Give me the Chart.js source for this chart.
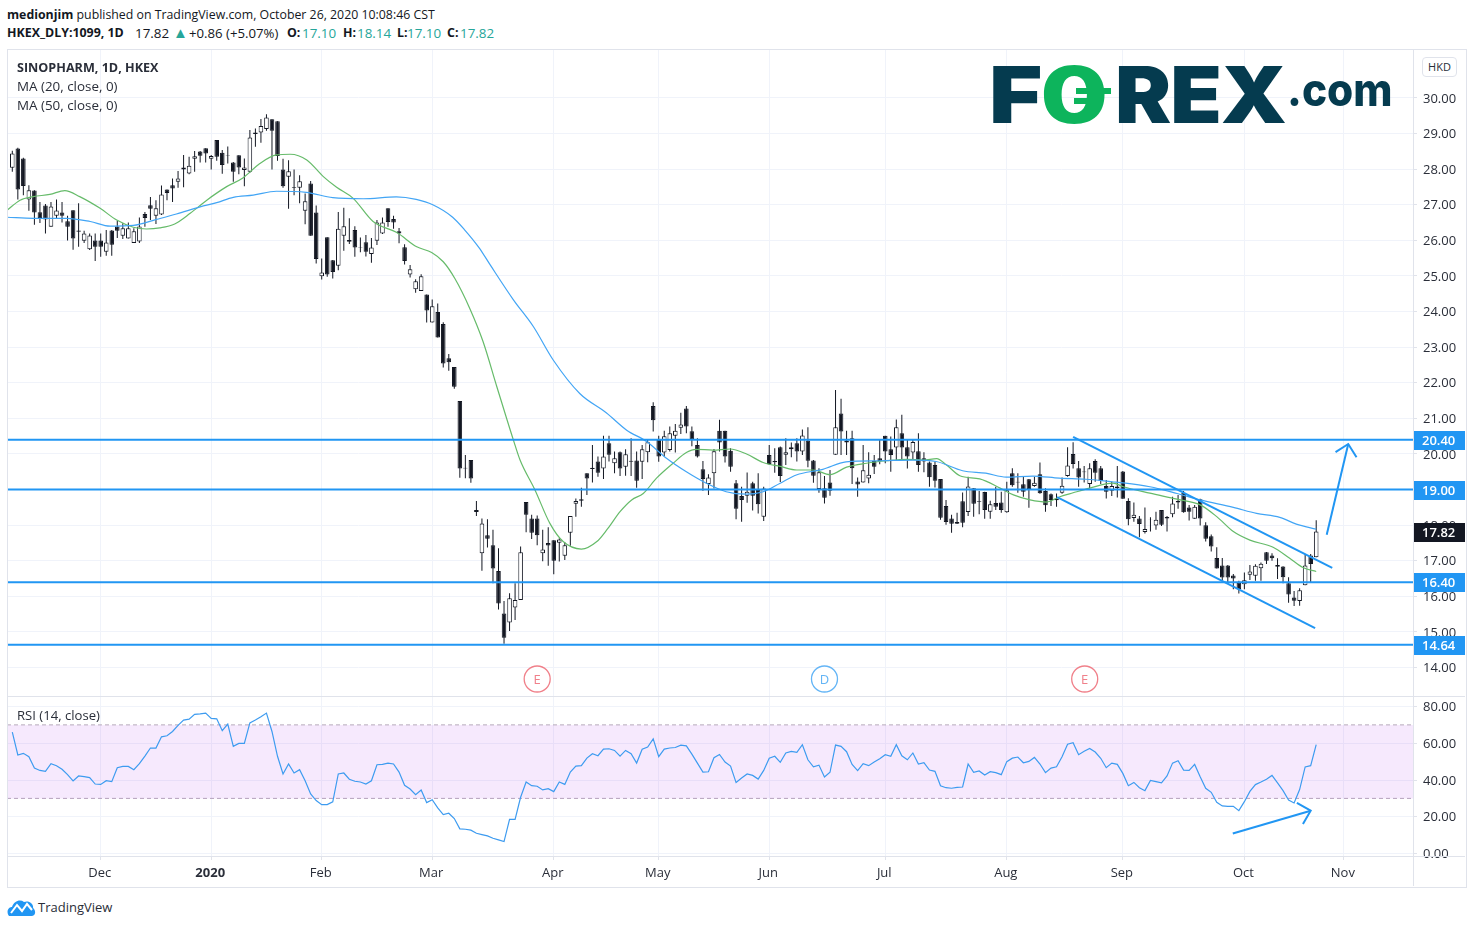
<!DOCTYPE html>
<html>
<head>
<meta charset="utf-8">
<title>SINOPHARM 1D</title>
<script src="https://cdn.jsdelivr.net/npm/chart.js@4/dist/chart.umd.min.js"></script>
<style>
body { margin: 0; background: #fff; font-family: "Open Sans", sans-serif; color: #131722; }
.abs { position: absolute; white-space: nowrap; }
canvas { position: absolute; }
b { font-weight: 700; }
.hd { position: absolute; white-space: nowrap; top: 24px; font-size: 12.4px; line-height: 18px; }
.val { position: absolute; white-space: nowrap; top: 24px; font-size: 13.4px; line-height: 18px; color: #26a69a; }
.logo { position: absolute; font-family: Inter, sans-serif; font-weight: 900; font-size: 78px; line-height: 78px; color: #053b4f; transform-origin: 0 0; }
</style>
</head>
<body>
<div class="abs" style="left:7px;top:6px;font-size:12.34px;line-height:18px"><b>medionjim</b> published on TradingView.com, October 26, 2020 10:08:46 CST</div>
<div class="hd" style="left:7px"><b>HKEX_DLY:1099, 1D</b></div>
<div class="hd" style="left:135px;font-size:13.4px">17.82</div>
<div class="val" style="left:173px;top:23px;font-size:15px">▲</div>
<div class="hd" style="left:189px;font-size:13.2px">+0.86 (+5.07%)</div>
<div class="hd" style="left:287px"><b>O:</b></div><div class="val" style="left:302px">17.10</div>
<div class="hd" style="left:343px"><b>H:</b></div><div class="val" style="left:357px">18.14</div>
<div class="hd" style="left:397px"><b>L:</b></div><div class="val" style="left:407px">17.10</div>
<div class="hd" style="left:447px"><b>C:</b></div><div class="val" style="left:460px">17.82</div>

<canvas id="priceChart" width="1459" height="647" style="left:7px;top:49px"></canvas>
<canvas id="rsiChart" width="1459" height="190" style="left:7px;top:697px"></canvas>

<div class="abs" style="left:7px;top:49px;width:1458px;height:837px;border:1px solid #e0e3eb"></div>
<div class="abs" style="left:8px;top:696px;width:1457px;height:1px;background:#e0e3eb"></div>
<div class="abs" style="left:8px;top:856px;width:1457px;height:1px;background:#e0e3eb"></div>
<div class="abs" style="left:1413px;top:50px;width:1px;height:836px;background:#e0e3eb"></div>

<div class="abs" style="left:17px;top:58px;font-size:13.4px;line-height:19px;color:#2a2e39"><b style="font-size:12.6px">SINOPHARM, 1D, HKEX</b><br>MA (20, close, 0)<br>MA (50, close, 0)</div>
<div class="abs" style="left:17px;top:706px;font-size:13.1px;line-height:18px;color:#2a2e39">RSI (14, close)</div>
<div class="abs" style="left:1422px;top:57px;width:33px;height:18px;border:1px solid #e0e3eb;border-radius:4px;background:#fff;font-size:11px;line-height:18px;text-align:center;color:#2a2e39">HKD</div>

<div class="logo" style="left:989px;top:56px;transform:scaleX(1.17)">F</div>
<div class="logo" style="left:1040px;top:56px;color:#0db45c;font-weight:800;transform:scaleX(1.27)">0</div>
<div class="abs" style="left:1076px;top:88px;width:35px;height:6px;background:#0db45c"></div>
<div class="abs" style="left:1074px;top:98px;width:29px;height:6px;background:#0db45c"></div>
<div class="logo" style="left:1115px;top:56px;letter-spacing:-1px;transform:scaleX(1.08)">REX</div>
<div class="logo" style="left:1287px;top:67px;font-size:45px;line-height:45px;font-weight:800;transform:scaleX(0.94)">.com</div>

<svg class="abs" style="left:7px;top:897px" width="29" height="20" viewBox="0 0 29 20">
<path d="M2 19 C-1 15 1 10 5 10 C7 4 13 2 17 5 C22 3 27 7 26 11 C29 13 29 19 25 19 Z" fill="#2196f3"/>
<path d="M4 16 L10 8 L15 14 L20 7 L25 13" fill="none" stroke="#fff" stroke-width="2"/>
</svg>
<div class="abs" style="left:38px;top:898px;font-size:13px;line-height:18px;color:#2a2e39">TradingView</div>

<script>
// candles, one row block per 10 bars
const highs = [
28.52,28.60,28.32,27.55,27.41,27.08,27.02,27.08,27.15,27.08,
26.69,26.85,27.04,26.27,26.19,26.19,26.19,26.29,26.29,26.55,
26.48,26.50,26.34,26.64,26.80,27.22,27.13,27.54,27.43,27.74,
27.95,28.40,28.35,28.51,28.51,28.59,28.40,28.82,28.54,28.64,
28.20,28.39,28.30,29.10,29.14,29.41,29.54,29.40,29.35,28.29,
28.25,27.99,27.83,27.32,27.67,26.98,25.49,26.09,25.45,26.80,
26.92,26.62,26.40,26.08,26.15,26.07,26.57,26.64,26.90,26.69,
26.35,25.89,25.31,24.91,25.05,24.48,24.34,24.23,23.70,22.81,
22.44,21.49,19.97,19.83,18.68,18.19,18.17,17.87,17.35,15.87,
16.09,16.37,17.40,18.65,18.29,18.27,17.87,17.94,17.58,17.63,
17.52,18.26,18.75,19.05,19.46,20.25,19.93,20.51,20.51,20.07,
20.07,20.13,20.44,20.07,20.25,20.39,21.45,20.51,20.65,20.77,
20.84,21.16,21.35,20.77,20.44,19.80,19.43,20.14,20.96,20.65,
20.16,19.27,19.08,19.48,19.22,19.46,19.08,20.25,20.16,20.21,
20.44,20.32,20.44,20.69,20.75,19.83,19.60,19.38,19.55,21.80,
21.55,20.65,20.65,19.34,20.25,20.05,19.97,20.39,20.51,20.49,
20.97,21.10,20.39,20.39,20.58,20.05,19.79,19.79,19.30,18.71,
18.29,18.35,18.92,19.36,19.04,18.96,18.94,18.69,19.08,18.94,
19.22,19.60,19.46,19.36,19.30,19.36,19.76,19.04,18.89,18.89,
19.34,20.19,20.33,19.80,19.66,19.74,19.85,19.66,19.27,19.22,
19.66,19.52,18.76,18.64,18.26,18.50,18.22,18.38,18.43,18.26,
18.80,18.85,18.96,18.57,18.57,18.74,18.08,17.74,17.38,17.08,
16.88,16.63,16.44,16.67,16.88,16.90,16.95,17.25,17.21,17.07,
16.85,16.54,16.15,16.23,17.19,17.19,18.14];
const opens = [
28.04,28.58,28.30,27.15,27.40,26.79,26.98,26.38,26.69,26.78,
26.54,26.85,26.28,25.99,25.75,26.00,26.00,25.68,26.28,26.39,
26.13,26.05,25.93,25.97,26.74,26.99,26.69,26.73,27.43,27.55,
27.65,27.99,27.88,28.29,28.50,28.59,28.29,28.82,28.46,28.39,
28.19,28.39,27.98,27.93,29.03,29.03,29.13,29.40,29.35,27.99,
27.79,27.49,27.48,26.83,27.60,26.78,24.99,26.09,25.44,25.29,
26.13,26.01,26.29,25.81,25.95,25.62,25.99,26.19,26.90,26.60,
26.26,25.81,25.04,24.63,24.58,24.48,23.69,23.99,23.65,22.69,
22.44,21.49,19.61,19.83,18.43,17.21,17.72,17.44,16.71,15.52,
15.27,15.69,15.90,18.65,18.19,18.19,17.21,17.50,17.58,17.51,
17.14,17.79,18.60,18.73,19.46,19.61,19.79,19.59,20.30,19.74,
20.05,19.64,19.81,19.82,19.78,20.05,21.35,20.39,20.04,20.11,
20.51,20.74,21.28,20.64,20.25,19.57,19.16,19.46,20.65,20.65,
20.09,19.18,18.82,18.83,19.18,18.99,18.24,19.97,19.80,20.19,
19.98,20.19,20.30,20.07,20.38,19.82,19.02,19.04,19.20,19.98,
21.14,20.32,20.44,19.23,19.20,19.31,19.80,19.88,20.51,20.13,
20.18,20.58,20.19,20.04,20.08,19.88,19.76,19.69,19.30,18.54,
18.19,18.09,18.67,18.37,19.04,18.68,18.93,18.38,18.62,18.64,
18.36,19.46,19.22,19.15,19.29,19.10,19.43,18.96,18.87,18.70,
18.91,19.38,20.00,19.60,19.51,19.16,19.80,19.60,19.10,18.97,
19.09,19.51,18.68,18.20,18.19,17.81,18.17,17.99,18.43,18.23,
18.31,18.64,18.91,18.50,18.18,18.73,18.00,17.69,17.08,16.87,
16.87,16.59,16.38,16.34,16.61,16.58,16.79,17.24,17.15,16.88,
16.84,16.37,15.97,15.87,16.31,17.15,17.10];
const closes = [
28.44,27.43,27.53,27.41,26.78,26.63,26.59,26.95,26.84,26.69,
26.38,26.05,26.24,26.19,26.14,25.82,25.82,25.94,25.88,26.27,
26.34,26.34,26.26,26.39,26.63,26.89,26.90,27.29,27.33,27.46,
27.74,28.05,28.10,28.36,28.38,28.44,28.37,28.35,28.12,28.38,
27.93,28.05,28.05,28.89,28.99,29.21,29.45,29.08,28.37,27.52,
27.94,27.47,27.66,27.10,26.13,25.48,25.10,25.04,25.11,26.33,
26.40,25.96,25.80,25.79,25.68,25.80,26.50,26.50,26.52,26.50,
26.19,25.42,25.19,24.85,24.99,24.03,24.15,23.27,22.54,22.58,
21.89,19.59,19.59,19.31,18.37,18.05,17.62,16.78,15.80,14.84,
15.95,15.90,17.24,18.29,17.79,17.72,17.32,17.43,17.00,17.60,
17.44,18.26,18.68,18.69,19.31,19.58,19.47,19.93,19.98,19.88,
19.59,19.99,19.78,19.25,20.13,20.33,20.95,19.93,20.50,20.58,
20.65,20.83,20.77,20.41,19.93,19.30,19.34,20.08,20.32,19.93,
19.64,18.46,18.71,18.94,18.83,18.59,19.03,19.71,19.77,19.38,
20.05,20.13,20.07,20.52,19.81,19.39,19.49,18.77,18.97,20.75,
20.63,20.38,19.60,19.14,19.54,19.42,19.64,19.80,20.07,19.97,
20.75,20.18,19.93,20.34,19.69,19.79,19.35,19.25,18.21,18.09,
18.04,18.04,18.07,19.09,18.60,18.66,18.43,18.59,18.52,18.43,
18.98,19.12,19.20,18.94,19.02,19.19,18.90,18.56,18.71,18.75,
19.11,19.68,19.72,19.34,19.49,19.60,19.47,19.24,18.94,19.10,
19.04,18.74,18.17,18.29,18.03,17.89,18.16,18.15,18.01,18.19,
18.61,18.68,18.36,18.38,18.52,18.19,17.62,17.40,16.78,16.53,
16.53,16.50,16.20,16.45,16.70,16.86,16.92,17.00,17.07,16.83,
16.54,16.05,15.88,16.17,16.87,16.91,17.82];
const lows = [
27.93,27.15,27.27,26.83,26.44,26.49,26.19,26.38,26.62,26.50,
26.00,25.74,25.82,25.93,25.73,25.42,25.54,25.57,25.57,26.07,
26.04,26.05,25.93,25.93,26.38,26.57,26.46,26.71,27.13,27.08,
27.48,27.49,27.86,27.93,28.19,28.19,27.99,28.24,27.87,28.16,
27.65,27.86,27.52,27.90,28.63,28.74,29.08,27.99,28.24,27.48,
26.89,27.27,27.04,26.45,26.13,25.35,24.90,24.98,24.93,25.16,
25.71,25.90,25.54,25.67,25.55,25.37,25.87,26.18,26.38,26.33,
25.92,25.32,24.96,24.53,24.58,23.69,23.69,23.27,22.43,22.34,
21.83,19.33,19.32,19.19,18.26,16.72,17.37,16.37,15.63,14.67,
15.03,15.34,15.90,17.80,17.61,17.44,16.99,16.86,16.62,16.98,
17.02,17.42,18.24,18.52,18.85,19.20,19.36,19.30,19.79,19.46,
19.38,19.39,19.38,19.05,19.30,19.77,20.63,19.78,19.93,20.07,
20.04,20.56,20.58,20.22,19.90,18.97,18.85,19.03,20.07,19.76,
19.50,18.17,18.10,18.63,18.41,18.33,18.12,19.69,19.47,19.21,
19.69,19.91,19.79,19.97,19.63,19.19,18.91,18.61,18.83,19.98,
19.97,19.97,19.16,18.80,19.20,19.18,19.44,19.71,19.74,19.50,
19.83,19.85,19.59,19.83,19.50,19.49,19.08,19.06,18.15,18.01,
17.79,18.03,17.94,18.26,18.24,18.31,18.18,18.18,18.43,18.35,
18.35,19.08,18.91,18.80,18.49,19.08,18.88,18.38,18.54,18.52,
18.88,19.36,19.59,19.08,19.20,19.04,19.22,19.16,18.75,18.82,
18.78,18.74,18.00,18.10,17.66,17.77,17.82,17.87,17.98,17.82,
18.22,18.46,18.35,18.13,18.18,17.99,17.54,17.26,16.78,16.46,
16.35,16.20,16.08,16.20,16.46,16.44,16.44,16.91,17.00,16.49,
16.37,15.82,15.73,15.74,16.31,16.39,17.10];

const rsiValues = [
66.1,53.6,54.5,52.7,46.5,45.2,44.7,48.9,47.8,45.8,
42.9,39.5,42.2,41.8,41.3,37.8,37.6,39.6,39.1,46.7,
47.4,47.4,45.6,48.9,53.0,57.4,57.4,63.5,64.1,66.4,
69.7,72.6,73.1,75.7,76.0,76.4,73.5,73.3,66.8,70.4,
58.3,59.9,59.9,71.1,72.6,74.4,76.4,66.4,52.9,43.3,
48.7,43.8,45.6,39.6,32.4,28.8,26.6,26.6,28.1,43.3,
43.8,40.4,39.3,38.9,37.8,39.6,48.3,48.5,49.2,48.7,
44.3,37.1,35.1,32.0,34.6,27.7,29.3,24.8,21.2,21.9,
19.0,13.4,13.2,12.7,11.0,10.3,9.6,8.3,7.4,6.5,
18.6,18.6,30.6,38.9,36.9,36.6,34.6,35.3,33.7,38.9,
37.6,44.3,47.6,47.8,51.9,54.3,53.2,56.8,57.0,56.1,
53.0,56.1,54.3,49.2,56.7,57.9,62.4,52.7,56.8,57.4,
57.7,59.0,58.6,54.1,49.2,44.3,44.5,52.1,53.9,49.8,
47.6,38.6,41.1,43.3,42.5,40.5,45.2,51.9,52.9,49.6,
54.7,55.6,55.0,59.2,51.0,47.2,48.1,41.6,44.2,59.0,
58.3,55.4,48.5,45.1,48.9,47.8,49.8,51.6,53.8,52.9,
59.2,53.2,51.0,54.7,48.7,49.4,45.4,44.7,36.9,35.8,
35.5,36.0,36.2,48.7,44.2,44.9,42.7,44.5,44.0,42.9,
50.0,51.9,52.5,49.4,50.1,52.3,48.7,44.0,46.5,47.2,
52.7,59.5,60.3,53.8,55.6,57.2,55.2,51.8,46.7,49.2,
48.5,43.6,36.9,38.7,35.8,34.2,39.8,39.1,38.4,42.2,
49.2,50.5,45.4,45.2,48.5,41.8,35.5,33.3,27.9,25.9,
25.7,25.7,23.3,28.2,33.8,37.5,38.9,40.4,42.5,38.4,
34.2,29.1,27.5,34.8,47.1,47.8,59.2];

// moving averages read at the bends only, bar number + value
const ma20Bars = [-0.9,1.4,3.8,6.8,9.5,12.2,15.9,18.9,21.9,24.3,26.7,29.4,32.2,35.2,38.8,41.8,44.8,47.8,50.3,53.3,56.3,58.7,61.7,65.3,69.6,73.2,75.9,78,80.1,82.8,85.2,87.7,90.7,91.9,94.6,97.3,99.7,103,105.8,107.8,110,112.1,114.2,116.6,119.6,122,123.8,126.8,129.9,132.9,135.9,139,142,145,148,151,154.6,158.3,161.9,164.9,167.3,169.1,171.5,175.1,178.8,181.2,184.2,187.2,189.6,192,195,199.2,201.1,205.9,210.8,215,218,221,224,228.2,231.2,233.6,236];
const ma20Values = [26.85,27.13,27.23,27.29,27.40,27.23,26.90,26.57,26.37,26.32,26.35,26.46,26.76,27.13,27.51,27.76,28.16,28.40,28.42,28.26,27.79,27.49,27.18,26.53,26.22,25.82,25.66,25.40,24.93,24.09,23.16,21.89,20.39,19.83,18.99,18.05,17.54,17.33,17.54,17.91,18.38,18.71,18.89,19.32,19.74,20.04,20.13,20.11,20.14,20.00,19.76,19.65,19.55,19.55,19.42,19.63,19.74,19.81,19.85,19.83,19.87,19.69,19.39,19.30,19.04,18.85,18.71,18.65,18.80,18.91,19.04,19.18,19.08,18.90,18.73,18.57,18.24,17.82,17.58,17.38,17.07,16.81,16.70];
const ma50Bars = [-0.9,3.8,9.8,14.1,17.7,21.9,26.1,29.7,34,37,40,43.6,47.8,53.2,58,63.5,69.5,73.1,76.1,79.7,81.9,84.5,86.5,90.7,94.3,97.9,102.7,107.5,111.2,114.8,118.4,122,125.6,129.2,132.8,135.9,138.9,141.9,146.7,150.9,157,163,167.2,172,176.2,179.9,184.7,189.5,194.3,199.1,201.1,205.9,210.8,215,221,225.2,229.4,232.4,236];
const ma50Values = [26.65,26.62,26.62,26.53,26.40,26.42,26.59,26.74,26.94,27.06,27.21,27.27,27.38,27.35,27.20,27.17,27.22,27.15,27.00,26.65,26.29,25.79,25.31,24.33,23.58,22.64,21.70,21.16,20.67,20.35,19.88,19.50,19.18,18.94,18.87,18.94,19.17,19.41,19.57,19.78,19.81,19.83,19.79,19.53,19.46,19.35,19.38,19.32,19.29,19.22,19.19,19.08,18.89,18.71,18.50,18.33,18.22,18.03,17.89];

const levelPrices = [20.40, 19.00, 16.40, 14.64];
const lastPrice = 17.82;
const priceTicks = [14,15,16,17,18,19,20,21,22,23,24,25,26,27,28,29,30];
const rsiTicks = [0,20,40,60,80];
const monthBars = [16,36,56,76,98,117,137,158,180,201,223,241];
const monthLabels = ['Dec','2020','Feb','Mar','Apr','May','Jun','Jul','Aug','Sep','Oct','Nov'];

// hand drawn lines on the published chart, [bar, value]
const channelTop = [[192,20.48],[238.9,16.80]];
const channelBottom = [[189.1,18.79],[235.8,15.11]];
const upArrow = [[237.9,17.73],[241.8,20.28]];
const upArrowHead = [[239.5,20.05],[241.8,20.28],[243.3,19.91]];
const rsiArrow = [[220.9,10.9],[235,23.3]];
const rsiArrowHead = [[232.5,27.5],[235,23.3],[233.6,16.1]];

const eventBars = [95,147,194.1];
const eventLetters = ['E','D','E'];
const eventColors = ['#f0808a','#64b5f6','#f0808a'];
const eventPrice = 13.68;

const xMin = -0.96;
const xMax = 253.52;
const blue = '#2196f3';
const ink = '#131722';
const gridCol = '#f0f3fa';
const font13 = { family: '"Open Sans", sans-serif', size: 13 };

Chart.defaults.animation = false;
Chart.defaults.font.family = font13.family;

function toPoints(list) {
    return list.map(p => ({ x: p[0], y: p[1] }));
}

function drawnLine(list, color, width) {
    return { type: 'line', data: toPoints(list), borderColor: color, borderWidth: width, pointRadius: 0, tension: 0, order: 1 };
}

// tick labels must not push the plot area in from the canvas edge
function noPadding(axis) {
    axis.paddingLeft = 0;
    axis.paddingRight = 0;
    axis.paddingTop = 0;
    axis.paddingBottom = 0;
}

function xAxis(showLabels) {
    return {
        type: 'linear', min: xMin, max: xMax, offset: false,
        afterBuildTicks: axis => { axis.ticks = monthBars.map(v => ({ value: v })); },
        afterFit: axis => { axis.height = showLabels ? 31 : 0; noPadding(axis); },
        grid: { color: gridCol, offset: false, drawTicks: showLabels, tickLength: 4, tickColor: '#e0e3eb' },
        border: { display: false },
        ticks: {
            display: showLabels, autoSkip: false, maxRotation: 0, padding: 5, labelOffset: -1, color: '#2a2e39',
            font: ctx => ctx.tick && ctx.tick.value === 36 ? { size: 13, weight: 'bold' } : { size: 13 },
            callback: v => monthLabels[monthBars.indexOf(v)]
        }
    };
}

function yAxis(min, max, list) {
    return {
        position: 'right', min: min, max: max,
        afterBuildTicks: axis => { axis.ticks = list.map(v => ({ value: v })); },
        afterFit: axis => { axis.width = 53; noPadding(axis); },
        grid: { color: gridCol, tickLength: 4, tickColor: '#e0e3eb' },
        border: { display: false },
        ticks: { padding: 6, labelOffset: 1, color: '#2a2e39', font: { size: 13 }, callback: v => v.toFixed(2) }
    };
}

const wicks = highs.map((h, i) => ({ x: i, y: [lows[i], h] }));
const bodies = opens.map((o, i) => ({ x: i, y: [Math.min(o, closes[i]), Math.max(o, closes[i])] }));
const bodyFill = opens.map((o, i) => closes[i] >= o ? '#ffffff' : ink);

const priceTags = {
    id: 'priceTags',
    afterDraw(chart) {
        const c = chart.ctx, sy = chart.scales.y, left = chart.chartArea.right + 1;
        function tag(value, fill) {
            const y = Math.round(sy.getPixelForValue(value));
            c.fillStyle = fill;
            c.fillRect(left, y - 9, chart.width - left - 1, 19);
            c.fillStyle = '#fff';
            c.font = '600 13px "Open Sans"';
            c.textBaseline = 'middle';
            c.textAlign = 'left';
            c.fillText(value.toFixed(2), left + 8, y + 1);
        }
        levelPrices.forEach(v => tag(v, blue));
        tag(lastPrice, ink);
        // letters inside the event circles
        c.font = '13px "Open Sans"';
        c.textAlign = 'center';
        eventBars.forEach((b, i) => {
            c.fillStyle = eventColors[i];
            c.fillText(eventLetters[i], chart.scales.x.getPixelForValue(b), sy.getPixelForValue(eventPrice) + 1);
        });
    }
};

const priceChart = new Chart(document.getElementById('priceChart'), {
    type: 'bar',
    data: {
        datasets: [
            { data: wicks, backgroundColor: ink, barThickness: 1, grouped: false, order: 9, inflateAmount: 0 },
            { data: bodies, backgroundColor: bodyFill, borderColor: ink, borderWidth: 1, borderSkipped: false, barThickness: 4.6, grouped: false, order: 8, inflateAmount: 0 },
            { type: 'line', data: ma20Bars.map((b, i) => ({ x: b, y: ma20Values[i] })), borderColor: '#66bb6a', borderWidth: 1.2, pointRadius: 0, cubicInterpolationMode: 'monotone', order: 4 },
            { type: 'line', data: ma50Bars.map((b, i) => ({ x: b, y: ma50Values[i] })), borderColor: '#42a5f5', borderWidth: 1.2, pointRadius: 0, cubicInterpolationMode: 'monotone', order: 3 },
            ...levelPrices.map(v => drawnLine([[xMin, v], [xMax, v]], blue, 2)),
            drawnLine(channelTop, blue, 2),
            drawnLine(channelBottom, blue, 2),
            drawnLine(upArrow, blue, 2),
            drawnLine(upArrowHead, blue, 2),
            { type: 'scatter', data: eventBars.map(b => ({ x: b, y: eventPrice })), pointRadius: 13, pointBackgroundColor: '#fff', pointBorderColor: eventColors, pointBorderWidth: 1.3, order: 0 }
        ]
    },
    options: {
        responsive: false,
        layout: { padding: 0, autoPadding: false },
        plugins: { legend: { display: false }, tooltip: { enabled: false } },
        scales: { x: xAxis(false), y: yAxis(13.202, 31.376, priceTicks) }
    },
    plugins: [priceTags]
});

const rsiChart = new Chart(document.getElementById('rsiChart'), {
    type: 'line',
    data: {
        datasets: [
            { data: [{ x: xMin, y: 70 }, { x: xMax, y: 70 }], borderColor: '#b5a8ba', borderWidth: 1, borderDash: [4, 3], pointRadius: 0, fill: '+1', backgroundColor: 'rgba(145,0,235,0.085)', order: 5 },
            { data: [{ x: xMin, y: 30 }, { x: xMax, y: 30 }], borderColor: '#b5a8ba', borderWidth: 1, borderDash: [4, 3], pointRadius: 0, order: 5 },
            { data: rsiValues.map((v, i) => ({ x: i, y: v })), borderColor: '#3d9bf0', borderWidth: 1.2, pointRadius: 0, tension: 0, order: 2 },
            drawnLine(rsiArrow, blue, 2),
            drawnLine(rsiArrowHead, blue, 2)
        ]
    },
    options: {
        responsive: false,
        layout: { padding: 0, autoPadding: false },
        plugins: { legend: { display: false }, tooltip: { enabled: false } },
        scales: { x: xAxis(true), y: yAxis(-1.36, 85.17, rsiTicks) }
    }
});
</script>
</body>
</html>
